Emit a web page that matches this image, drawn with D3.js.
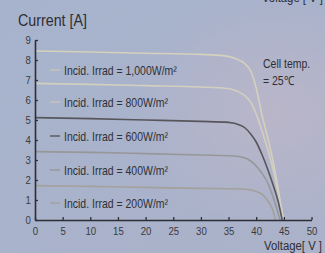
<!DOCTYPE html>
<html>
<head>
<meta charset="utf-8">
<script src="https://cdn.jsdelivr.net/npm/d3@7"></script>
<style>
  html, body { margin: 0; padding: 0; }
  body { width: 325px; height: 253px; overflow: hidden; }
  svg { display: block; font-family: "Liberation Sans", Arial, sans-serif; }
</style>
</head>
<body>
<svg id="chart" width="325" height="253"></svg>
<script>
// irradiance series, I-V points [voltage, current]
var labels = ['Incid. Irrad = 1,000W/m\u00b2', 'Incid. Irrad = 800W/m\u00b2', 'Incid. Irrad = 600W/m\u00b2',
    'Incid. Irrad = 400W/m\u00b2', 'Incid. Irrad = 200W/m\u00b2'];
var irr1000 = [[0, 8.45], [10, 8.4], [20, 8.34], [30, 8.28], [34, 8.22], [36, 8.1], [38, 7.8], [39, 7.45],
    [40, 6.6], [41, 5.3], [42, 4.2], [43, 3.0], [44, 1.5], [44.9, 0]];
var irr800 = [[0, 6.83], [10, 6.78], [20, 6.72], [30, 6.65], [34, 6.6], [36, 6.5], [38, 6.2], [39, 5.9],
    [40, 5.3], [41, 4.5], [42, 3.6], [43, 2.6], [44, 1.3], [45, 0]];
var irr600 = [[0, 5.12], [10, 5.07], [20, 5.0], [30, 4.93], [35, 4.88], [37, 4.75], [38, 4.6], [39, 4.3],
    [40, 3.9], [41, 3.3], [42, 2.6], [43, 1.8], [44, 0.9], [44.7, 0]];
var irr400 = [[0, 3.42], [10, 3.38], [20, 3.32], [30, 3.25], [36, 3.2], [38, 3.1], [39, 2.95], [40, 2.7],
    [41, 2.35], [42, 1.9], [43, 1.2], [43.8, 0.5], [44.3, 0]];
var irr200 = [[0, 1.72], [10, 1.68], [20, 1.63], [30, 1.58], [37, 1.55], [39, 1.5], [40, 1.42], [41, 1.3],
    [42, 1.0], [43, 0.5], [43.5, 0]];
var series = [irr1000, irr800, irr600, irr400, irr200];
var colors = ['#d5d1bd', '#d3cfbf', '#56565c', '#97979a', '#a3a19c'];
var legendColors = ['#c9c5b4', '#c9c5b6', '#56565c', '#97979a', '#a3a19c'];
var xTicks = [0, 5, 10, 15, 20, 25, 30, 35, 40, 45, 50];
var yTicks = [0, 1, 2, 3, 4, 5, 6, 7, 8, 9];

var NARROW = 0.84; // the original type is a condensed face

var svg = d3.select('#chart');
var defs = svg.append('defs');

var bg = defs.append('linearGradient').attr('id', 'bg').attr('x1', 0).attr('y1', 0).attr('x2', 1).attr('y2', 1);
bg.append('stop').attr('offset', '0%').attr('stop-color', '#a7b3cd');
bg.append('stop').attr('offset', '100%').attr('stop-color', '#abb2c9');
var glow = defs.append('radialGradient').attr('id', 'glow').attr('cx', 0.85).attr('cy', 0.45).attr('r', 0.45);
glow.append('stop').attr('offset', '0%').attr('stop-color', '#bcb6c9').attr('stop-opacity', 0.9);
glow.append('stop').attr('offset', '100%').attr('stop-color', '#bcb6c9').attr('stop-opacity', 0);

svg.append('rect').attr('width', 325).attr('height', 253).attr('fill', 'url(#bg)');
svg.append('rect').attr('width', 325).attr('height', 253).attr('fill', 'url(#glow)');

var x = d3.scaleLinear().domain([0, 50]).range([35, 311.5]);
var y = d3.scaleLinear().domain([0, 9]).range([220, 40]);

// curves
var line = d3.line()
    .x(function(d) { return x(d[0]); })
    .y(function(d) { return y(d[1]); })
    .curve(d3.curveMonotoneX);

svg.append('g').selectAll('path').data(series).enter().append('path')
    .attr('d', line)
    .attr('fill', 'none')
    .attr('stroke', function(d, i) { return colors[i]; })
    .attr('stroke-width', 1.6);

// axes
var xAxis = svg.append('g').attr('transform', 'translate(0,220)')
    .call(d3.axisBottom(x).tickValues(xTicks).tickSizeInner(-3).tickSizeOuter(0).tickPadding(7));
var yAxis = svg.append('g').attr('transform', 'translate(35,0)')
    .call(d3.axisLeft(y).tickValues(yTicks).tickSizeInner(-3).tickSizeOuter(0).tickPadding(5));

[xAxis, yAxis].forEach(function(a) {
    a.select('.domain').attr('stroke', '#2e2e34').attr('stroke-width', 1.6);
    a.selectAll('.tick line').attr('stroke', '#2e2e34').attr('stroke-width', 1.3);
    a.selectAll('.tick text').attr('fill', '#3a3a40').style('font-size', '11.5px')
        .style('font-family', '"Liberation Sans", Arial, sans-serif')
        .attr('transform', 'scale(' + NARROW + ',1)');
});

function label(x0, y0, str, size, anchor) {
    return svg.append('text')
        .attr('transform', 'translate(' + x0 + ',' + y0 + ') scale(' + NARROW + ',1)')
        .attr('text-anchor', anchor || 'start')
        .attr('fill', '#2e2e34')
        .style('font-size', size + 'px')
        .text(str);
}

// legend
var legendY = [70, 102, 136, 170, 203];
var legend = svg.append('g').selectAll('g').data(labels).enter().append('g')
    .attr('transform', function(d, i) { return 'translate(50,' + legendY[i] + ')'; });
legend.append('line').attr('x1', 0).attr('x2', 10).attr('y1', 0).attr('y2', 0)
    .attr('stroke', function(d, i) { return legendColors[i]; }).attr('stroke-width', 1.4);
legend.append('text')
    .attr('transform', 'translate(14,4.5) scale(' + NARROW + ',1)')
    .text(function(d) { return d; })
    .attr('fill', '#303036').style('font-size', '12.5px');

// titles and notes
label(18, 26, 'Current [A]', 17);
label(322, 250, 'Voltage[ V ]', 13.5, 'end');
label(323, 2, 'Voltage [ V ]', 13.5, 'end');
label(263, 68, 'Cell temp.', 12.5);
label(263, 85, '= 25\u2103', 12.5);
</script>
</body>
</html>
